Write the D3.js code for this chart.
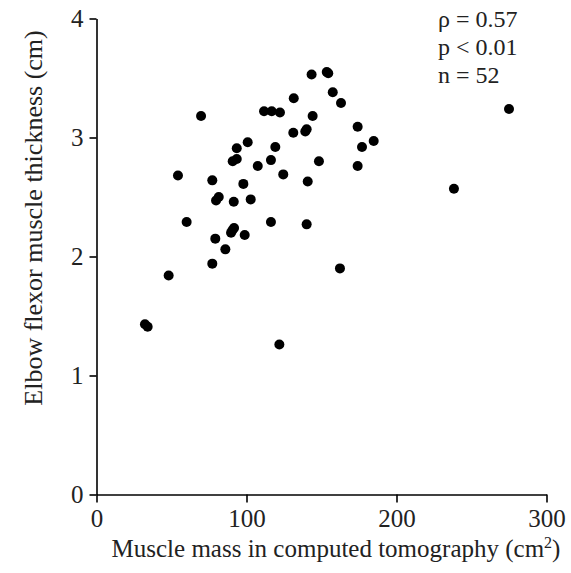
<!DOCTYPE html>
<html>
<head>
<script src="https://cdn.jsdelivr.net/npm/d3@7"></script>
<style type="text/css">
  body{
    background: white;
    margin: 0px;
  }
  svg text{
    font-family: 'Liberation Serif', 'Times New Roman', serif;
    fill: #222;
  }
</style>
</head>
<body>

<svg id="chart" width="571" height="573"></svg>

<script>

// muscle mass (cm2)
var muscleMass = [
  143.4, 154.5, 153.5, 157.5, 163.0, 131.5, 69.7, 111.7, 116.8, 122.3,
  144.1, 174.1, 184.8, 177.0, 174.1, 131.2, 139.2, 140.1, 100.8, 93.5,
  119.2, 90.8, 93.5, 116.3, 107.5, 148.3, 54.3, 77.2, 97.9, 124.5,
  140.8, 79.7, 81.5, 91.5, 102.8, 116.3, 60.1, 79.2, 89.7, 91.7,
  90.6, 98.8, 85.9, 77.2, 48.1, 32.3, 34.1, 121.9, 140.1, 162.3,
  275.0, 238.3
];

// elbow flexor muscle thickness (cm)
var thickness = [
  3.53, 3.54, 3.55, 3.38, 3.29, 3.33, 3.18, 3.22, 3.22, 3.21,
  3.18, 3.09, 2.97, 2.92, 2.76, 3.04, 3.05, 3.07, 2.96, 2.91,
  2.92, 2.80, 2.82, 2.81, 2.76, 2.80, 2.68, 2.64, 2.61, 2.69,
  2.63, 2.47, 2.50, 2.46, 2.48, 2.29, 2.29, 2.15, 2.20, 2.24,
  2.22, 2.18, 2.06, 1.94, 1.84, 1.43, 1.41, 1.26, 2.27, 1.90,
  3.24, 2.57
];

var xTicks = [0, 100, 200, 300];
var yTicks = [0, 1, 2, 3, 4];
var statsLines = ['\u03C1 = 0.57', 'p < 0.01', 'n = 52'];

var plotLeft = 96.5, plotRight = 546.5, plotTop = 18.5, plotBottom = 494.5;

var svg = d3.select('#chart');

var x = d3.scaleLinear().domain([0, 300]).range([plotLeft, plotRight]);
var y = d3.scaleLinear().domain([0, 4]).range([plotBottom, plotTop]);

var xAxis = svg.append('g')
  .attr('transform', 'translate(0,' + plotBottom + ')')
  .call(d3.axisBottom(x).tickValues(xTicks).tickFormat(d3.format('d')).tickSize(8).tickPadding(7).tickSizeOuter(0));

var yAxis = svg.append('g')
  .attr('transform', 'translate(' + plotLeft + ',0)')
  .call(d3.axisLeft(y).tickValues(yTicks).tickFormat(d3.format('d')).tickSize(7).tickPadding(6).tickSizeOuter(0));

[xAxis, yAxis].forEach(function(a) {
  a.selectAll('path, line').attr('stroke', '#000').attr('stroke-width', 1.6);
  a.selectAll('text')
    .style('font-family', "'Liberation Serif', serif")
    .style('font-size', '25px')
    .attr('fill', '#222');
});

svg.append('g')
  .selectAll('circle')
  .data(muscleMass)
  .enter()
  .append('circle')
  .attr('cx', function(d) { return x(d); })
  .attr('cy', function(d, i) { return y(thickness[i]); })
  .attr('r', 5)
  .attr('fill', '#000');

// axis titles
svg.append('text')
  .attr('x', 336)
  .attr('y', 557)
  .attr('text-anchor', 'middle')
  .style('font-size', '25px')
  .html('Muscle mass in computed tomography (cm<tspan dy="-9" font-size="16px">2</tspan><tspan dy="9">)</tspan>');

svg.append('text')
  .attr('transform', 'translate(42,218) rotate(-90)')
  .attr('text-anchor', 'middle')
  .style('font-size', '26px')
  .text('Elbow flexor muscle thickness (cm)');

// stats box
svg.append('g')
  .selectAll('text')
  .data(statsLines)
  .enter()
  .append('text')
  .attr('x', 438)
  .attr('y', function(d, i) { return 27 + i * 28; })
  .style('font-size', '24px')
  .text(function(d) { return d; });

</script>

</body>
</html>
